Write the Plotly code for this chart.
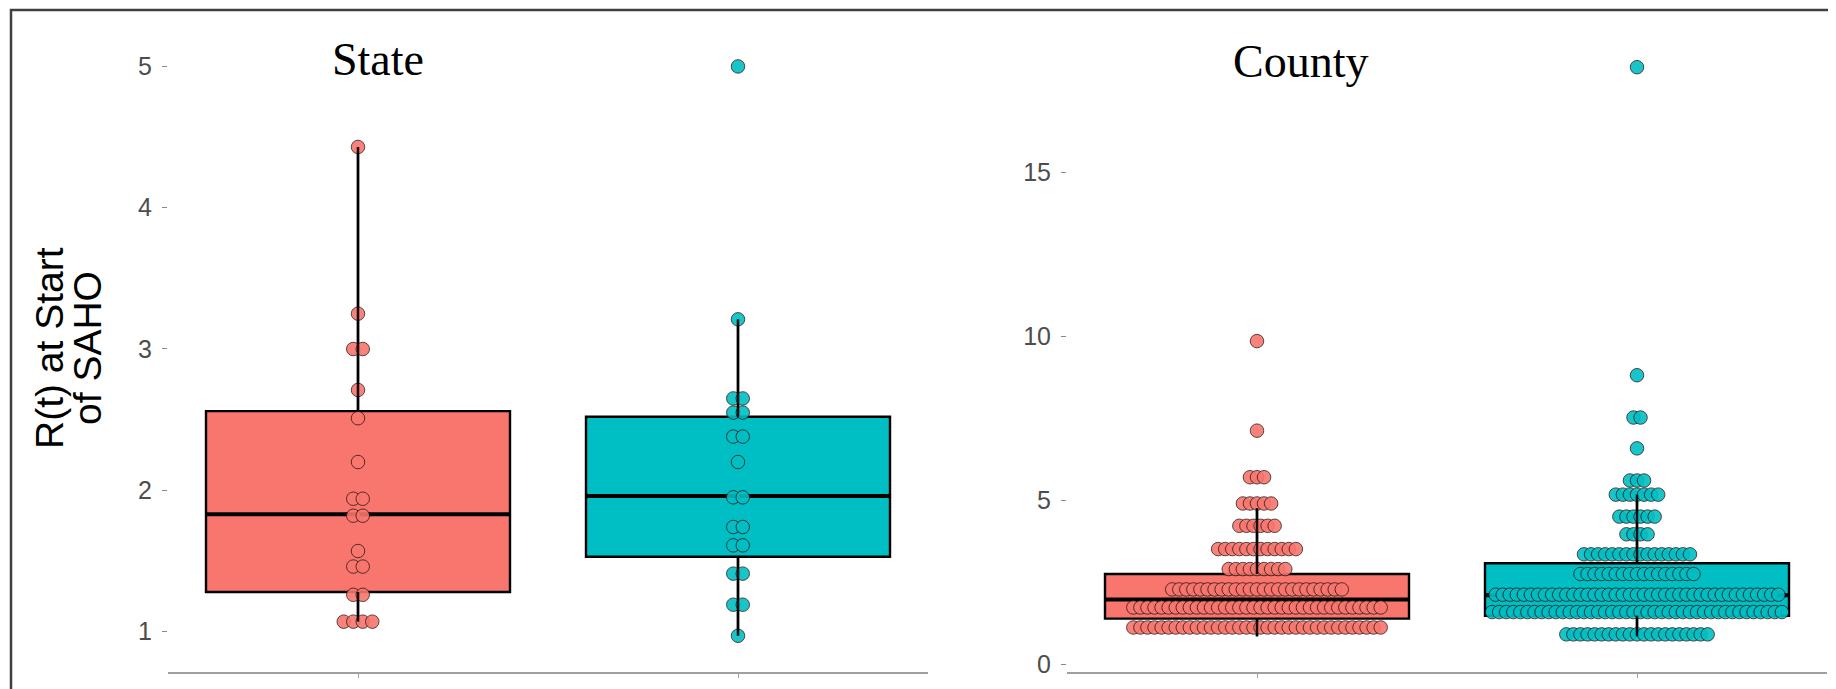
import plotly.graph_objects as go

# The page adds an 8px body margin, so the figure is sized and placed to compensate.
PAGE_OFF = 8
W, H = 1836 - PAGE_OFF, 689 - PAGE_OFF

def px(xp):   # page x -> paper fraction
    return (xp - PAGE_OFF) / W

def py(yp):   # page y (from top) -> paper fraction
    return 1 - (yp - PAGE_OFF) / H

# category positions (two unnamed groups per panel)
groups = ["Group A", "Group B"]
x_pos = [0, 1]
colors = ["#F8766D", "#00BFC4"]

# ---- State panel: dot rows (value, count)
state_red_vals = [4.43, 3.25, 3.00, 2.71, 2.51, 2.20, 1.94, 1.82, 1.57, 1.46, 1.26, 1.07]
state_red_counts = [1, 1, 2, 1, 1, 1, 2, 2, 1, 2, 2, 4]
state_teal_vals = [5.00, 3.21, 2.65, 2.55, 2.38, 2.20, 1.95, 1.74, 1.61, 1.41, 1.19, 0.97]
state_teal_counts = [1, 1, 2, 2, 2, 1, 2, 2, 2, 2, 2, 1]

# ---- County panel: dot rows (value, count)
county_red_vals = [9.85, 7.12, 5.70, 4.90, 4.22, 3.51, 2.90, 2.28, 1.73, 1.12]
county_red_counts = [1, 1, 3, 5, 6, 12, 9, 25, 36, 36]
county_teal_vals = [18.2, 8.81, 7.52, 6.58, 5.60, 5.17, 4.50, 3.96, 3.35, 2.75, 2.12, 1.59, 0.91]
county_teal_counts = [1, 1, 2, 1, 3, 7, 6, 4, 16, 17, 41, 42, 21]

# ---- box stats: [lower whisker, q1, median, q3, upper whisker]
state_red_box = [1.07, 1.28, 1.83, 2.56, 4.43]
state_teal_box = [0.97, 1.53, 1.96, 2.52, 3.21]
county_red_box = [0.85, 1.39, 1.97, 2.75, 4.76]
county_teal_box = [0.85, 1.48, 2.10, 3.08, 5.17]

tick_left = [1, 2, 3, 4, 5]
tick_right = [0, 5, 10, 15]

BOX_W = 0.8
fig = go.Figure()

panels = [
    ("x", "y", [state_red_box, state_teal_box],
     [(state_red_vals, state_red_counts), (state_teal_vals, state_teal_counts)], 0.025),
    ("x2", "y2", [county_red_box, county_teal_box],
     [(county_red_vals, county_red_counts), (county_teal_vals, county_teal_counts)], 0.0186),
]

for xa, ya, boxes, dots, spacing in panels:
    for gi, (bx, (vals, cnts)) in enumerate(zip(boxes, dots)):
        xc = x_pos[gi]
        fig.add_trace(go.Box(
            x=[xc], lowerfence=[bx[0]], q1=[bx[1]], median=[bx[2]], q3=[bx[3]],
            upperfence=[bx[4]], width=BOX_W, whiskerwidth=0, fillcolor=colors[gi],
            line=dict(color="black", width=2.4), boxpoints=False,
            xaxis=xa, yaxis=ya, showlegend=False, name=groups[gi]))
        # thick median
        fig.add_trace(go.Scatter(
            x=[xc - BOX_W / 2, xc + BOX_W / 2], y=[bx[2], bx[2]], mode="lines",
            line=dict(color="black", width=4), xaxis=xa, yaxis=ya,
            showlegend=False, hoverinfo="skip"))
        # dots (centered stacking)
        xs, ys = [], []
        for v, n in zip(vals, cnts):
            for i in range(n):
                xs.append(xc + (i - (n - 1) / 2) * spacing)
                ys.append(v)
        fig.add_trace(go.Scatter(
            x=xs, y=ys, mode="markers",
            marker=dict(size=13.5, color=colors[gi], opacity=0.9,
                        line=dict(color="rgba(40,20,20,0.85)", width=1)),
            xaxis=xa, yaxis=ya, showlegend=False, cliponaxis=False))
        # whiskers on top
        for a, b in [(bx[0], bx[1]), (bx[3], bx[4])]:
            fig.add_trace(go.Scatter(
                x=[xc, xc], y=[a, b], mode="lines",
                line=dict(color="rgba(0,0,0,0.9)", width=2.5),
                xaxis=xa, yaxis=ya, showlegend=False, hoverinfo="skip"))

ydom = [py(678), py(35.6)]
xcommon = dict(range=[-0.5, 1.5], showline=True, linecolor="#a0a0a0", linewidth=2,
               ticks="outside", ticklen=4, tickcolor="#a0a0a0", tickvals=x_pos,
               showticklabels=False, showgrid=False, zeroline=False)
ycommon = dict(ticks="outside", ticklen=5, tickcolor="#888888", showline=False,
               showgrid=False, zeroline=False, ticklabelstandoff=5,
               tickfont=dict(family="Liberation Sans, Arial", size=25, color="#4d4d4d"))

title_font = dict(family="Liberation Serif, Times New Roman", size=46, color="black")
ytitle_font = dict(family="Liberation Sans, Arial", size=39, color="black")

fig.update_layout(
    width=W, height=H, margin=dict(l=0, r=0, t=0, b=0),
    paper_bgcolor="white", plot_bgcolor="white", showlegend=False,
    boxmode="overlay",
    xaxis=dict(domain=[px(168), px(928)], anchor="y", **xcommon),
    xaxis2=dict(domain=[px(1067), px(1827)], anchor="y2", **xcommon),
    yaxis=dict(domain=ydom, range=[0.713, 5.22], tickvals=tick_left, anchor="x", **ycommon),
    yaxis2=dict(domain=ydom, range=[-0.24, 19.17], tickvals=tick_right, anchor="x2", **ycommon),
    annotations=[
        dict(text="State", x=px(378), y=py(60), xref="paper", yref="paper",
             showarrow=False, xanchor="center", yanchor="middle", font=title_font),
        dict(text="County", x=px(1300), y=py(62), xref="paper", yref="paper",
             showarrow=False, xanchor="center", yanchor="middle", font=title_font),
        dict(text="R(t) at Start", x=px(50), y=py(351), xref="paper", yref="paper",
             showarrow=False, textangle=-90, xanchor="center", yanchor="middle",
             font=ytitle_font),
        dict(text="of SAHO", x=px(88), y=py(351), xref="paper", yref="paper",
             showarrow=False, textangle=-90, xanchor="center", yanchor="middle",
             font=ytitle_font),
    ],
    shapes=[dict(type="rect", xref="paper", yref="paper", x0=px(11), x1=px(1831),
                 y0=-0.05, y1=py(10), line=dict(color="#404040", width=2.5),
                 fillcolor="rgba(0,0,0,0)")],
)

fig.write_html("out.html")
